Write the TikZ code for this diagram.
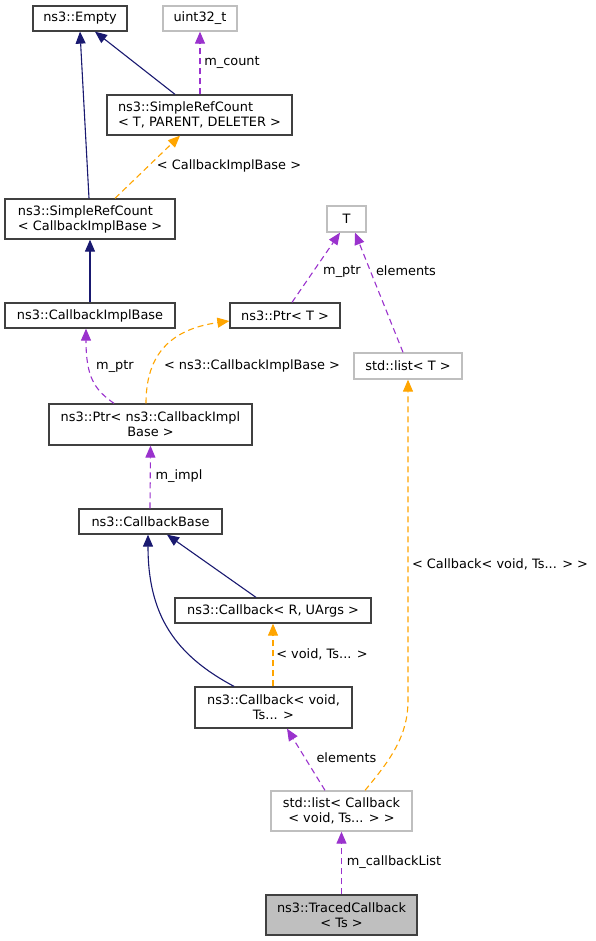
\documentclass[tikz,border=0pt]{standalone}
\usepackage{fontspec}
\setmainfont{DejaVu Sans}
\usetikzlibrary{arrows.meta}
\definecolor{navyc}{HTML}{191970}
\definecolor{purp}{HTML}{9A32CD}
\definecolor{oran}{HTML}{FFA500}
\definecolor{boxc}{HTML}{404040}
\definecolor{gbor}{HTML}{BFBFBF}
\begin{document}
\begin{tikzpicture}[x=1pt,y=-1pt,
  font=\fontsize{12.9}{15}\selectfont,
  cls/.style={draw=boxc,line width=1.3pt,fill=white,inner sep=0pt,align=center},
  ext/.style={draw=gbor,line width=1.3pt,fill=white,inner sep=0pt,align=center},
  cur/.style={draw=boxc,line width=1.3pt,fill=gbor,inner sep=0pt,align=center},
  inh/.style={draw=navyc,line width=1.1pt,-{Triangle[length=12pt,width=10pt]}},
  use/.style={draw=purp,line width=1.1pt,dash pattern=on 6pt off 4pt,-{Triangle[length=12pt,width=10pt]}},
  tpl/.style={draw=oran,line width=1.1pt,dash pattern=on 6pt off 4pt,-{Triangle[length=12pt,width=10pt]}},
  lbl/.style={inner sep=0pt,anchor=center}]
\useasboundingbox (0,0) rectangle (595,941);
% nodes
\node[cls,minimum width=94pt,minimum height=25pt] (empty) at (80,18.5) {ns3::Empty};
\node[ext,minimum width=74pt,minimum height=25pt] (uint) at (200,18.5) {uint32\_t};
\node[cls,minimum width=185pt,minimum height=40pt,align=left] (srct) at (199.5,115) {ns3::SimpleRefCount\\< T, PARENT, DELETER >};
\node[cls,minimum width=170pt,minimum height=40pt,align=left] (srccib) at (90,219) {ns3::SimpleRefCount\\< CallbackImplBase >};
\node[ext,minimum width=39pt,minimum height=26pt] (T) at (346.5,219) {T};
\node[cls,minimum width=170pt,minimum height=25pt] (cib) at (90,315.5) {ns3::CallbackImplBase};
\node[cls,minimum width=110pt,minimum height=25pt] (ptrt) at (285,315.5) {ns3::Ptr< T >};
\node[ext,minimum width=108pt,minimum height=26pt] (listt) at (408,366) {std::list< T >};
\node[cls,minimum width=203pt,minimum height=41pt] (ptrcib) at (150.5,424.5) {ns3::Ptr< ns3::CallbackImpl\\Base >};
\node[cls,minimum width=143pt,minimum height=25pt] (cbbase) at (150.5,521.5) {ns3::CallbackBase};
\node[cls,minimum width=196pt,minimum height=25pt] (cbr) at (273,610.5) {ns3::Callback< R, UArgs >};
\node[cls,minimum width=157pt,minimum height=41pt] (cbv) at (273.5,707.5) {ns3::Callback< void,\\Ts... >};
\node[ext,minimum width=141pt,minimum height=40pt] (listcb) at (341.5,811) {std::list< Callback\\< void, Ts... > >};
\node[cur,minimum width=151pt,minimum height=40pt] (traced) at (341.5,915) {ns3::TracedCallback\\< Ts >};
% edges
\draw[inh] ([xshift=-1pt]srccib.north) -- (empty.south);
\draw[inh] ([xshift=-24.5pt]srct.north) -- ([xshift=15pt]empty.south);
\draw[use] ([xshift=0.5pt]srct.north) -- (uint.south);
\node[lbl] at (232,62) {m\_count};
\draw[tpl] ([xshift=25pt]srccib.north) -- ([xshift=-19.5pt]srct.south);
\node[lbl] at (229,166) {< CallbackImplBase >};
\draw[inh] (cib.north) -- (srccib.south);
\draw[use] ([xshift=7pt]ptrt.north) -- ([xshift=-6.5pt]T.south);
\node[lbl] at (342,271) {m\_ptr};
\draw[use] ([xshift=-5pt]listt.north) -- ([xshift=8.5pt]T.south);
\node[lbl] at (406,271) {elements};
\draw[use] ([xshift=-36.5pt]ptrcib.north) .. controls (95,390) and (86,378) .. ([xshift=-4pt]cib.south);
\node[lbl] at (115,366) {m\_ptr};
\draw[tpl] ([xshift=-4.5pt]ptrcib.north) .. controls (146,360) and (165,330) .. ([yshift=-5.5pt]ptrt.west);
\node[lbl] at (252,366) {< ns3::CallbackImplBase >};
\draw[use] ([xshift=-0.5pt]cbbase.north) -- (ptrcib.south);
\node[lbl] at (179,476) {m\_impl};
\draw[inh] ([xshift=-17pt]cbr.north) -- ([xshift=16.5pt]cbbase.south);
\draw[inh] ([xshift=-39.5pt]cbv.north) .. controls (175,655) and (148,615) .. ([xshift=-2.5pt]cbbase.south);
\draw[tpl] ([xshift=-0.5pt]cbv.north) -- (cbr.south);
\node[lbl] at (322,654) {< void, Ts... >};
\draw[use] ([xshift=-16.5pt]listcb.north) -- ([xshift=13.5pt]cbv.south);
\node[lbl] at (346.5,758) {elements};
\draw[tpl] ([xshift=23.5pt]listcb.north) .. controls (392,758) and (408,735) .. (408,700) -- (listt.south);
\node[lbl] at (500,564) {< Callback< void, Ts... > >};
\draw[use] (traced.north) -- (listcb.south);
\node[lbl] at (394,862) {m\_callbackList};
\end{tikzpicture}
\end{document}
